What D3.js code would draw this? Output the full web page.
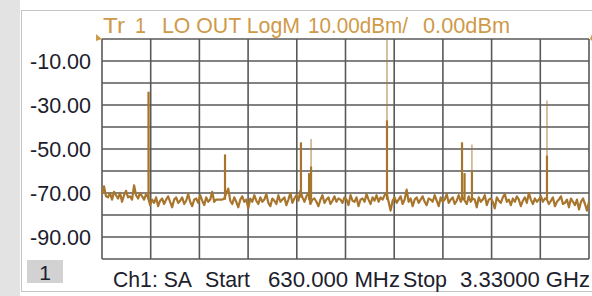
<!DOCTYPE html>
<html>
<head>
<meta charset="utf-8">
<script src="https://cdn.jsdelivr.net/npm/d3@7"></script>
<style>
  html, body { margin: 0; padding: 0; background: #fff; }
  svg { display: block; font-family: "Liberation Sans", Arial, sans-serif; }
</style>
</head>
<body>
<svg class="canvas" width="592" height="296"></svg>
<script>
// sweep settings (MHz) and scale (dB)
const startFreq = 630;
const stopFreq = 3330;
const refLevel = 0;
const bottomLevel = -100;
const yLabels = [-10, -30, -50, -70, -90];
const divisions = 10;

// noise floor trace, evenly spaced sweep points (dBm)
const noiseTrace = [
  -70.5, -67, -71.5, -72, -70, -73, -69.5, -71, -72.5, -70, -74, -71, -69, -72, -71.5, -73, -66.5, -71, -72.5, -70,
  -71.5, -73, -70.5, -72, -75.5, -73, -74.5, -72, -76, -73.5, -72.5, -75, -73, -71.5, -74, -76.5, -73, -72, -74.5, -73.5,
  -72, -75, -73.5, -70.5, -74, -76, -73, -72.5, -74.5, -71, -73.5, -75.5, -72, -74, -73, -69.5, -74, -73, -73, -73,
  -73, -72.5, -70, -68, -73.5, -75, -72, -74, -76.5, -73, -71.5, -74, -73, -77, -72.5, -74, -71, -73.5, -75, -72,
  -74, -73, -70.5, -74.5, -76, -72.5, -73.5, -75, -71, -74, -73, -72, -75.5, -73, -70, -74.5, -72.5, -71, -73.5, -69,
  -72, -74, -71.5, -70, -75, -73, -72.5, -74, -76, -73, -71, -74.5, -73, -72, -75, -73.5, -71.5, -74, -72.5, -73,
  -74.5, -72, -73, -75.5, -71, -73.5, -74, -72, -76, -73, -72.5, -74, -70.5, -73, -75, -72, -73.5, -71, -74, -72,
  -73, -71, -70, -74, -78, -73.5, -72, -74.5, -73, -71.5, -75, -73, -68.5, -74, -72.5, -76, -73, -72, -74.5, -73,
  -71.5, -74, -75.5, -72.5, -73, -74, -71, -73.5, -76, -72, -74, -73, -70.5, -74.5, -73, -72, -75, -73.5, -71, -74,
  -72, -73.5, -75, -71.5, -74, -72.5, -73, -76.5, -72, -74, -73, -71, -75.5, -73, -72.5, -74, -77, -72, -73.5, -74.5,
  -72, -70.5, -74, -73, -75.5, -72.5, -74, -71.5, -73, -76, -73.5, -72, -74.5, -70, -73, -75, -72.5, -74, -73, -71.5,
  -74, -72.5, -73, -75, -73.5, -72, -76, -74, -73, -71.5, -75, -74.5, -73, -76.5, -72.5, -74, -75.5, -73, -77.5, -74,
  -72.5, -75, -78, -74
];

// spurious / LO tones
const spurFreq = [888, 1312, 1733, 1778, 1789, 2210, 2626, 2640, 2681, 3097];
const spurPeak = [-24, -52.5, -47, -61, -45.5, -0.5, -47, -61, -48, -28];
const spurBody = [-24, -52.5, -47, -61, -58, -37, -47, -61, -60, -53];
const spurBase = [-73, -73, -72, -73, -73, -73, -73, -73, -73, -73];

const svg = d3.select(".canvas");
const plot = { left: 102, top: 39, right: 589, bottom: 259 };
const traceColor = "#a8752c";
const titleColor = "#cf9a48";
const textColor = "#1c202c";

// frame
svg.append("rect").attr("x", 0).attr("y", 0).attr("width", 20).attr("height", 296).attr("fill", "#e3e3e3");
svg.append("line").attr("x1", 21.5).attr("x2", 21.5).attr("y1", 10).attr("y2", 292).attr("stroke", "#c4c4c4");
svg.append("line").attr("x1", 21).attr("x2", 592).attr("y1", 10.5).attr("y2", 10.5).attr("stroke", "#c4c4c4");
svg.append("line").attr("x1", 21).attr("x2", 592).attr("y1", 291.5).attr("y2", 291.5).attr("stroke", "#c4c4c4");

// scales
const xScale = d3.scaleLinear().domain([startFreq, stopFreq]).range([plot.left, plot.right]);
const yScale = d3.scaleLinear().domain([bottomLevel, refLevel]).range([plot.bottom, plot.top]);

const xTicks = d3.range(divisions + 1).map((i) => startFreq + (i * (stopFreq - startFreq)) / divisions);
const yTicks = d3.range(divisions + 1).map((i) => bottomLevel + (i * (refLevel - bottomLevel)) / divisions);

// grid
svg
  .append("g")
  .selectAll("line.v")
  .data(xTicks)
  .enter()
  .append("line")
  .attr("x1", (d) => xScale(d))
  .attr("x2", (d) => xScale(d))
  .attr("y1", plot.top)
  .attr("y2", plot.bottom)
  .attr("stroke", "#595959")
  .attr("stroke-width", 1.6);
svg
  .append("g")
  .selectAll("line.h")
  .data(yTicks)
  .enter()
  .append("line")
  .attr("x1", plot.left)
  .attr("x2", plot.right)
  .attr("y1", (d) => yScale(d))
  .attr("y2", (d) => yScale(d))
  .attr("stroke", "#595959")
  .attr("stroke-width", 1.6);

// y labels (plain hyphen, like the analyzer)
svg
  .append("g")
  .selectAll("text")
  .data(yLabels)
  .enter()
  .append("text")
  .attr("x", 91)
  .attr("y", (d) => yScale(d))
  .attr("dy", "0.36em")
  .attr("text-anchor", "end")
  .attr("fill", textColor)
  .style("font-size", "21.5px")
  .text((d) => d.toFixed(2));

// noise trace
const step = (stopFreq - startFreq) / (noiseTrace.length - 1);
const line = d3
  .line()
  .x((d, i) => xScale(startFreq + i * step))
  .y((d) => yScale(d));
svg
  .append("path")
  .datum(noiseTrace)
  .attr("d", line)
  .attr("fill", "none")
  .attr("stroke", traceColor)
  .attr("stroke-width", 2.2)
  .attr("stroke-linejoin", "round");

// spurs: thin upper part, thicker body
const spurs = svg.append("g");
spurs
  .selectAll("line.tip")
  .data(spurFreq)
  .enter()
  .append("line")
  .attr("x1", (d) => xScale(d))
  .attr("x2", (d) => xScale(d))
  .attr("y1", (d, i) => yScale(spurBase[i]))
  .attr("y2", (d, i) => yScale(spurPeak[i]))
  .attr("stroke", traceColor)
  .attr("stroke-opacity", 0.7)
  .attr("stroke-width", 1.3);
spurs
  .selectAll("line.body")
  .data(spurFreq)
  .enter()
  .append("line")
  .attr("x1", (d) => xScale(d))
  .attr("x2", (d) => xScale(d))
  .attr("y1", (d, i) => yScale(spurBase[i]))
  .attr("y2", (d, i) => yScale(spurBody[i]))
  .attr("stroke", traceColor)
  .attr("stroke-width", 2.2);

// reference markers
svg
  .append("path")
  .attr("d", `M96,34 L${plot.left},${yScale(refLevel)} L96,41 Z`)
  .attr("fill", titleColor);
svg
  .append("path")
  .attr("d", `M592,34 L${plot.right + 1},${yScale(refLevel)} L592,41 Z`)
  .attr("fill", titleColor);

// title, pieces placed as on the instrument
const title = [
  { x: 103, w: 22, t: "Tr" },
  { x: 135, w: 11, t: "1" },
  { x: 162, w: 138, t: "LO OUT LogM" },
  { x: 308, w: 100, t: "10.00dBm/" },
  { x: 423, w: 87, t: "0.00dBm" }
];
svg
  .append("g")
  .selectAll("text")
  .data(title)
  .enter()
  .append("text")
  .attr("x", (d) => d.x)
  .attr("y", 33)
  .attr("fill", titleColor)
  .attr("textLength", (d) => d.w)
  .attr("lengthAdjust", "spacingAndGlyphs")
  .style("font-size", "22px")
  .text((d) => d.t);

// channel box
svg.append("rect").attr("x", 27).attr("y", 260).attr("width", 36).attr("height", 23).attr("fill", "#d2d2d2");
svg
  .append("text")
  .attr("x", 45)
  .attr("y", 280)
  .attr("text-anchor", "middle")
  .attr("fill", textColor)
  .style("font-size", "21px")
  .text("1");

// footer
const footer = [
  { x: 113, w: 79, t: "Ch1: SA" },
  { x: 205, w: 45, t: "Start" },
  { x: 268, w: 132, t: "630.000 MHz" },
  { x: 403, w: 44, t: "Stop" },
  { x: 460, w: 130, t: "3.33000 GHz" }
];
svg
  .append("g")
  .selectAll("text")
  .data(footer)
  .enter()
  .append("text")
  .attr("x", (d) => d.x)
  .attr("y", 287)
  .attr("fill", textColor)
  .attr("textLength", (d) => d.w)
  .attr("lengthAdjust", "spacingAndGlyphs")
  .style("font-size", "21.5px")
  .text((d) => d.t);
</script>
</body>
</html>
